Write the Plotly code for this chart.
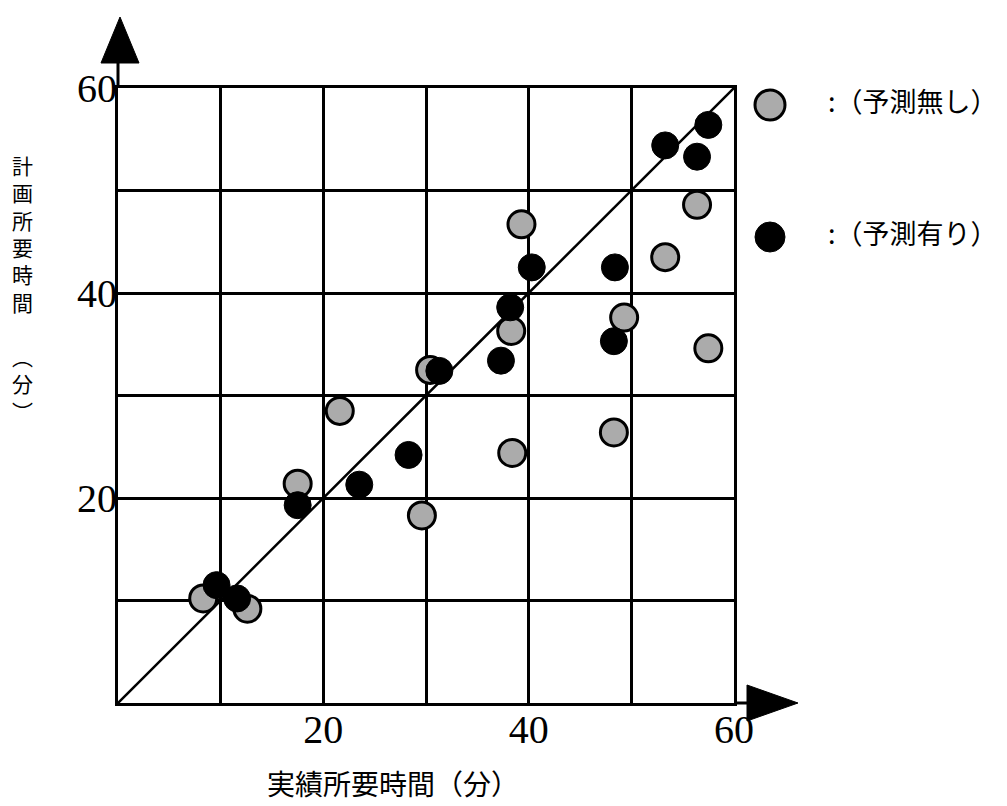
import plotly.graph_objects as go

# Data (minutes)
no_pred_actual = [8.3, 12.6, 17.5, 21.6, 29.6, 30.4, 38.4, 38.3, 39.3, 48.3, 49.3, 53.3, 56.4, 57.5]
no_pred_plan = [10.2, 9.2, 21.4, 28.5, 18.3, 32.5, 24.4, 36.3, 46.7, 26.4, 37.6, 43.5, 48.6, 34.6]

pred_actual = [9.6, 11.6, 17.5, 23.5, 28.3, 31.3, 37.3, 38.2, 40.3, 48.3, 48.4, 53.3, 56.4, 57.5]
pred_plan = [11.5, 10.2, 19.3, 21.3, 24.2, 32.4, 33.4, 38.6, 42.5, 35.3, 42.5, 54.4, 53.3, 56.4]

tick_vals = [10, 20, 30, 40, 50, 60]
tick_text = ['', '20', '', '40', '', '60']
diag = [0, 60]

# page has an 8px body margin; figure sized to fit the window
OFF = 8
FW, FH = 999, 798
L, T = 110, 80
W, H = 616, 615
R = FW - L - W
B = FH - T - H

fig = go.Figure()

# 1:1 line
fig.add_trace(go.Scatter(
    x=diag, y=diag, mode='lines',
    line=dict(color='black', width=2.5),
    showlegend=False, hoverinfo='skip'
))

fig.add_trace(go.Scatter(
    x=no_pred_actual, y=no_pred_plan, mode='markers',
    name=':（予測無し）', showlegend=False,
    marker=dict(size=27, color='#ababab', line=dict(color='black', width=3)),
))

fig.add_trace(go.Scatter(
    x=pred_actual, y=pred_plan, mode='markers',
    name=':（予測有り）', showlegend=False,
    marker=dict(size=27, color='black', line=dict(color='black', width=1)),
))


# window pixel -> paper coords
def px(xp):
    return (xp - OFF - L) / W


def py(yp):
    return (OFF + T + H - yp) / H


# axis arrows
fig.add_shape(type='line', xref='paper', yref='paper',
              x0=0, y0=1, x1=0, y1=py(60), line=dict(color='black', width=3))
fig.add_shape(type='path', xref='paper', yref='paper',
              path=f'M {px(101)} {py(63)} L {px(139)} {py(63)} L {px(120)} {py(17)} Z',
              fillcolor='black', line=dict(color='black', width=1))
fig.add_shape(type='line', xref='paper', yref='paper',
              x0=1, y0=0, x1=px(750), y1=0, line=dict(color='black', width=3))
fig.add_shape(type='path', xref='paper', yref='paper',
              path=f'M {px(747)} {py(685)} L {px(747)} {py(721)} L {px(798)} {py(703)} Z',
              fillcolor='black', line=dict(color='black', width=1))

# legend drawn by hand (big symbols like the original)
legend_items = [(':（予測無し）', '#ababab', 3, 105), (':（予測有り）', 'black', 1, 237)]
for label, fill, lw, cy in legend_items:
    r = 15
    fig.add_shape(type='circle', xref='paper', yref='paper',
                  x0=px(770 - r), x1=px(770 + r), y0=py(cy + r), y1=py(cy - r),
                  fillcolor=fill, line=dict(color='black', width=lw))
    fig.add_annotation(xref='paper', yref='paper', x=px(826), y=py(cy - 5),
                       text=label, showarrow=False, xanchor='left', yanchor='middle',
                       font=dict(family='Noto Sans CJK JP', size=27, color='black'))

# vertical y-axis title
fig.add_annotation(
    xref='paper', yref='paper', x=px(22), y=py(288),
    text='<br>'.join(list('計画所要時間')) + '<br><br>︵<br>分<br>︶',
    showarrow=False, font=dict(family='Noto Sans CJK JP', size=21, color='black'),
    xanchor='center', yanchor='middle'
)

# x-axis title
fig.add_annotation(
    xref='paper', yref='paper', x=px(393), y=py(783),
    text='実績所要時間（分）', showarrow=False,
    font=dict(family='Noto Sans CJK JP', size=28, color='black'),
    xanchor='center', yanchor='middle'
)

fig.update_layout(
    width=FW, height=FH,
    margin=dict(l=L, r=R, t=T, b=B, autoexpand=False),
    plot_bgcolor='white', paper_bgcolor='white',
    font=dict(family='Liberation Serif', color='black'),
    showlegend=False,
)

fig.update_xaxes(
    range=[0, 60], tickvals=tick_vals, ticktext=tick_text,
    showgrid=True, gridcolor='black', gridwidth=3,
    showline=True, linecolor='black', linewidth=3, mirror=True,
    zeroline=False, ticks='', ticklabelstandoff=-11,
    tickfont=dict(family='Liberation Serif', size=40),
)

fig.update_yaxes(
    range=[0, 60], tickvals=tick_vals, ticktext=tick_text,
    showgrid=True, gridcolor='black', gridwidth=3,
    showline=True, linecolor='black', linewidth=3, mirror=True,
    zeroline=False, ticks='', ticklabelstandoff=-10,
    tickfont=dict(family='Liberation Serif', size=40),
)

fig.write_html('out.html')
